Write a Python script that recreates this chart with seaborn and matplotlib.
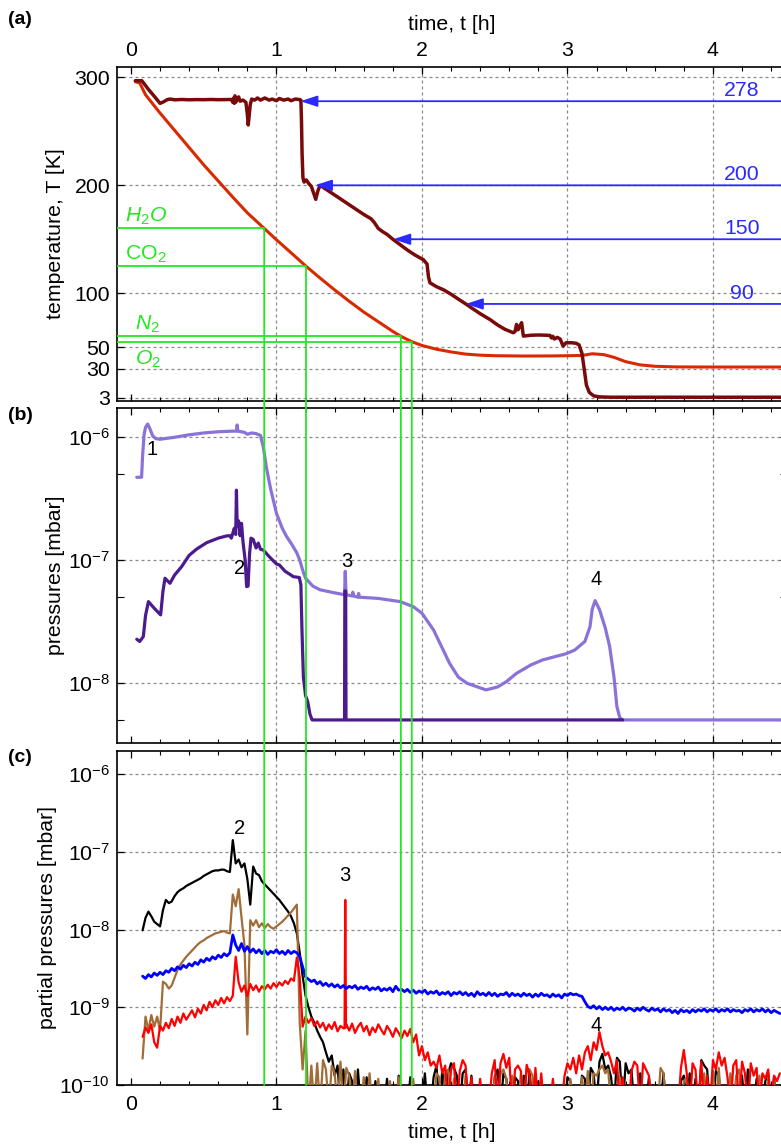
import numpy as np
import matplotlib
matplotlib.use("Agg")
import matplotlib.pyplot as plt
from matplotlib.patches import ConnectionPatch
from matplotlib.ticker import MultipleLocator, NullFormatter
import seaborn as sns

sns.set_style("white")
plt.rcParams["font.family"] = ["Liberation Sans", "DejaVu Sans"]
plt.rcParams["mathtext.fontset"] = "custom"
plt.rcParams["mathtext.rm"] = "Liberation Sans"
plt.rcParams["mathtext.it"] = "Liberation Sans:italic"
plt.rcParams["mathtext.bf"] = "Liberation Sans:bold"
for key in ["text.color", "axes.labelcolor", "xtick.color", "ytick.color", "axes.edgecolor"]:
    plt.rcParams[key] = "black"

# ---------------- (a) temperatures ----------------
coldhead_t = [0.03, 0.06, 0.10, 0.20, 0.30, 0.40, 0.50, 0.60, 0.70, 0.80, 0.916, 1.00,
              1.10, 1.203, 1.30, 1.40, 1.50, 1.60, 1.70, 1.80, 1.855, 1.93, 2.00, 2.10,
              2.20, 2.30, 2.40, 2.50, 2.70, 2.90, 3.10, 3.17, 3.25, 3.32, 3.40, 3.50,
              3.60, 3.75, 4.00, 4.60]
coldhead_T = [296, 295, 284, 267, 251, 235, 219, 204, 189, 174.5, 160, 149.5,
              137.5, 125, 114, 103, 92.5, 82.5, 73.5, 64.5, 60, 55, 51.5, 48,
              45.5, 43.5, 42.5, 42, 41.7, 41.8, 42.2, 43.8, 43, 40.5, 36.5, 33.5,
              32.2, 31.6, 31.5, 31.5]

sample_t = [0.03, 0.075, 0.12, 0.17, 0.20, 0.225, 0.25, 0.27, 0.30, 0.35, 0.40, 0.45,
            0.50, 0.55, 0.60, 0.65, 0.69, 0.70, 0.705, 0.71, 0.715, 0.72, 0.73, 0.74,
            0.75, 0.77, 0.79, 0.80, 0.806, 0.812, 0.82, 0.83, 0.85, 0.87, 0.89, 0.92,
            0.95, 0.97, 1.00, 1.02, 1.05, 1.08, 1.10, 1.13, 1.16, 1.168, 1.172, 1.176,
            1.182, 1.19, 1.205, 1.22, 1.24, 1.255, 1.27, 1.285, 1.30, 1.35, 1.40, 1.45,
            1.50, 1.55, 1.60, 1.65, 1.67, 1.70, 1.73, 1.76, 1.80, 1.83, 1.86, 1.90,
            1.95, 2.01, 2.035, 2.045, 2.055, 2.10, 2.15, 2.20, 2.25, 2.307, 2.35, 2.40,
            2.467, 2.52, 2.57, 2.628, 2.64, 2.65, 2.66, 2.675, 2.685, 2.697, 2.75, 2.80,
            2.85, 2.88, 2.89, 2.90, 2.91, 2.93, 2.95, 2.97, 2.99, 3.03, 3.06, 3.08,
            3.10, 3.115, 3.13, 3.15, 3.18, 3.22, 3.30, 4.60]
sample_T = [297, 297, 289, 281, 276, 277.5, 279.5, 280, 279.3, 279.6, 279.3, 279.5,
            279.4, 279.6, 279.4, 279.5, 279.6, 277, 281, 276, 283, 277, 280, 282,
            278, 279, 277, 266, 256, 264, 275, 280, 279, 281, 279, 281,
            279, 280, 278.5, 280.5, 279, 280, 278.5, 280, 279.5, 279, 260, 230,
            207, 203, 205, 202, 199, 193, 187, 195, 200, 195.5, 191, 186.5,
            182, 177.5, 173, 169, 166, 160, 157, 154.5, 150, 147, 144, 140,
            135.5, 131, 127, 115, 109.6, 106, 103, 99, 94.5, 89.5, 85.5, 81,
            75.6, 70.5, 66.5, 63.3, 64.5, 71, 66, 70, 72.6, 60.2, 61, 61.2,
            61, 60.8, 58.5, 60, 57.5, 59, 57.5, 51, 54, 54, 53.5, 52,
            44, 30, 15, 8, 4.8, 3.8, 3.5, 3.5]

setpoint_T = [278, 200, 150, 90]
setpoint_t = [1.165, 1.265, 1.803, 2.302]

freeze_labels = [r"$H_2O$", r"CO$_2$", r"$N_2$", r"$O_2$"]
freeze_T = [160, 125, 60, 55]
freeze_t = [0.916, 1.203, 1.855, 1.93]

# ---------------- (b) total pressures (log10 mbar) ----------------
p1_t = [0.04, 0.073, 0.08, 0.09, 0.10, 0.115, 0.13, 0.15, 0.17, 0.20, 0.30, 0.40,
        0.50, 0.60, 0.70, 0.725, 0.73, 0.735, 0.78, 0.80, 0.83, 0.86, 0.89, 0.91,
        0.93, 0.96, 1.00, 1.04, 1.07, 1.10, 1.14, 1.16, 1.18, 1.20, 1.25, 1.30,
        1.40, 1.468, 1.473, 1.478, 1.52, 1.525, 1.53, 1.56, 1.565, 1.57, 1.70, 1.85,
        1.94, 2.00, 2.08, 2.19, 2.25, 2.31, 2.44, 2.52, 2.58, 2.65, 2.75, 2.83,
        2.99, 3.05, 3.12, 3.155, 3.17, 3.19, 3.22, 3.26, 3.29, 3.32, 3.34, 3.36,
        3.38, 4.60]
p1_v = [-6.325, -6.325, -6.15, -5.98, -5.92, -5.892, -5.93, -5.99, -6.01, -6.016, -6.0, -5.98,
        -5.965, -5.955, -5.95, -5.95, -5.90, -5.95, -5.96, -5.975, -5.965, -5.97, -5.985, -6.08,
        -6.24, -6.42, -6.618, -6.74, -6.808, -6.86, -6.94, -6.998, -7.08, -7.146, -7.21, -7.24,
        -7.265, -7.28, -7.09, -7.28, -7.29, -7.26, -7.29, -7.30, -7.27, -7.30, -7.31, -7.336,
        -7.377, -7.43, -7.567, -7.838, -7.95, -8.0, -8.054, -8.03, -7.987, -7.919, -7.85, -7.81,
        -7.76, -7.73, -7.66, -7.54, -7.40, -7.328, -7.40, -7.55, -7.70, -7.95, -8.19, -8.28,
        -8.298, -8.298]

p2_t = [0.04, 0.06, 0.085, 0.10, 0.12, 0.16, 0.204, 0.22, 0.234, 0.268, 0.30, 0.348,
        0.40, 0.45, 0.52, 0.60, 0.658, 0.68, 0.69, 0.70, 0.71, 0.72, 0.725, 0.73,
        0.74, 0.75, 0.76, 0.77, 0.785, 0.795, 0.805, 0.815, 0.825, 0.84, 0.86, 0.875,
        0.89, 0.91, 0.95, 1.00, 1.02, 1.06, 1.10, 1.115, 1.157, 1.168, 1.175, 1.185,
        1.20, 1.215, 1.23, 1.245, 1.468, 1.470, 1.476, 1.478, 3.38]
p2_v = [-7.642, -7.66, -7.62, -7.45, -7.336, -7.39, -7.444, -7.25, -7.146, -7.187, -7.12, -7.052,
        -6.96, -6.91, -6.857, -6.82, -6.802, -6.80, -6.82, -6.78, -6.74, -6.79, -6.43, -6.72,
        -6.68, -6.80, -6.70, -6.85, -7.0, -7.214, -7.21, -6.95, -6.82, -6.83, -6.90, -6.86,
        -6.91, -6.917, -6.97, -7.03, -7.038, -7.09, -7.12, -7.133, -7.14, -7.20, -7.55, -7.95,
        -8.10, -8.15, -8.25, -8.298, -8.298, -7.25, -7.25, -8.298, -8.298]

# ---------------- (c) partial pressures (log10 mbar), sampled every 0.02 h from 0.08 h ----------------
T0, DT = 0.08, 0.02

blue_v = [
    -8.60, -8.63, -8.58, -8.61, -8.56, -8.59, -8.55, -8.58, -8.53, -8.55,
    -8.50, -8.53, -8.48, -8.51, -8.46, -8.49, -8.44, -8.47, -8.42, -8.45,
    -8.39, -8.42, -8.37, -8.40, -8.35, -8.38, -8.33, -8.36, -8.31, -8.34,
    -8.30, -8.07, -8.20, -8.27, -8.18, -8.28, -8.22, -8.29, -8.25, -8.30,
    -8.26, -8.31, -8.27, -8.32, -8.28, -8.30, -8.26, -8.31, -8.28, -8.32,
    -8.27, -8.31, -8.28, -8.30, -8.35, -8.48, -8.61, -8.64, -8.67, -8.65,
    -8.70, -8.67, -8.72, -8.69, -8.73, -8.70, -8.74, -8.71, -8.75, -8.72,
    -8.76, -8.73, -8.75, -8.72, -8.77, -8.74, -8.76, -8.73, -8.78, -8.75,
    -8.77, -8.74, -8.79, -8.76, -8.78, -8.75, -8.80, -8.73, -8.78, -8.77,
    -8.80, -8.77, -8.81, -8.78, -8.82, -8.79, -8.81, -8.78, -8.83, -8.80,
    -8.82, -8.79, -8.84, -8.81, -8.83, -8.80, -8.85, -8.81, -8.83, -8.80,
    -8.84, -8.81, -8.85, -8.82, -8.86, -8.80, -8.84, -8.82, -8.85, -8.81,
    -8.85, -8.82, -8.86, -8.83, -8.84, -8.81, -8.86, -8.82, -8.85, -8.83,
    -8.86, -8.82, -8.85, -8.83, -8.87, -8.83, -8.86, -8.82, -8.85, -8.84,
    -8.87, -8.83, -8.86, -8.84, -8.88, -8.83, -8.85, -8.82, -8.84, -8.83,
    -8.85, -8.86, -8.93, -8.99, -9.01, -8.98, -9.02, -8.99, -9.03, -9.00,
    -9.03, -9.00, -9.04, -9.01, -9.03, -9.00, -9.04, -9.01, -9.02, -9.05,
    -9.01, -9.04, -9.00, -9.03, -9.05, -9.01, -9.04, -9.02, -9.06, -9.02,
    -9.05, -9.03, -9.07, -9.04, -9.08, -9.03, -9.06, -9.04, -9.07, -9.03,
    -9.06, -9.03, -9.05, -9.02, -9.06, -9.03, -9.05, -9.02, -9.06, -9.03,
    -9.05, -9.02, -9.06, -9.03, -9.05, -9.04, -9.07, -9.03, -9.05, -9.02,
    -9.06, -9.03, -9.05, -9.02, -9.06, -9.03, -9.07, -9.04, -9.06, -9.08,
]

red_v = [
    -9.38, -9.26, -9.33, -9.22, -9.45, -9.52, -9.24, -9.30, -9.20, -9.27,
    -9.15, -9.24, -9.12, -9.20, -9.08, -9.16, -9.10, -9.04, -9.13, -9.02,
    -9.08, -8.97, -9.04, -8.93, -9.00, -8.91, -8.97, -8.88, -8.95, -8.87,
    -8.92, -8.85, -8.35, -8.68, -8.80, -8.72, -8.86, -8.70, -8.78, -8.72,
    -8.80, -8.73, -8.77, -8.71, -8.76, -8.69, -8.74, -8.68, -8.72, -8.66,
    -8.70, -8.63, -8.66, -8.36, -8.62, -9.25, -9.12, -9.20, -9.14, -9.24,
    -9.18, -9.26, -9.20, -9.30, -9.22, -9.28, -9.19, -9.31, -9.24, -9.27,
    -9.22, -9.30, -9.21, -9.33, -9.25, -9.20, -9.31, -9.24, -9.36, -9.26,
    -9.32, -9.22, -9.29, -9.35, -9.24, -9.30, -9.38, -9.27, -9.33, -9.40,
    -9.30, -9.37, -9.28, -9.45, -9.35, -9.62, -9.50, -9.68, -9.58, -9.75,
    -9.70, -9.78, -9.62, -9.85, -9.75, -10.3, -9.80, -9.72, -10.3, -9.82,
    -9.68, -9.75, -10.3, -9.90, -10.3, -10.3, -9.92, -10.3, -10.3, -10.3,
    -9.85, -9.68, -10.3, -9.72, -9.60, -9.78, -9.65, -10.3, -9.80, -9.75,
    -9.82, -10.3, -9.74, -9.88, -10.3, -9.78, -10.3, -9.85, -10.3, -10.3,
    -10.3, -9.92, -10.3, -10.3, -10.3, -9.88, -9.72, -9.80, -9.65, -9.85,
    -9.62, -9.80, -9.58, -9.50, -9.68, -9.45, -9.55, -9.32, -9.50, -9.62,
    -9.58, -9.70, -9.85, -9.68, -10.3, -9.90, -10.3, -10.3, -9.82, -9.70,
    -9.75, -10.3, -9.72, -9.80, -9.88, -10.3, -10.3, -10.3, -10.3, -10.3,
    -10.3, -10.3, -10.3, -10.3, -10.3, -9.78, -9.55, -9.85, -10.3, -9.72,
    -9.80, -10.3, -9.70, -10.3, -9.88, -10.3, -9.68, -9.80, -9.58, -9.75,
    -9.65, -9.90, -10.3, -9.75, -9.68, -10.3, -9.70, -9.85, -10.3, -9.72,
    -9.88, -9.78, -10.3, -9.85, -9.92, -9.80, -10.3, -9.88, -9.95, -9.85,
]
red_spike_t = [1.468, 1.473, 1.478]
red_spike_v = [-9.27, -7.62, -9.26]

black_v = [
    -8.01, -7.85, -7.77, -7.83, -7.90, -7.93, -7.96, -7.75, -7.62, -7.66,
    -7.64, -7.57, -7.52, -7.49, -7.47, -7.44, -7.42, -7.40, -7.38, -7.36,
    -7.34, -7.31, -7.29, -7.27, -7.25, -7.24, -7.24, -7.23, -7.23, -7.25,
    -7.26, -6.85, -7.15, -7.10, -7.20, -7.15, -7.35, -7.68, -7.19, -7.28,
    -7.30, -7.38, -7.42, -7.46, -7.50, -7.54, -7.58, -7.62, -7.67, -7.72,
    -7.77, -7.83, -7.92, -8.05, -8.30, -8.60, -8.85, -9.00, -9.12, -9.20,
    -9.30, -9.38, -9.45, -9.58, -9.70, -9.62, -9.88, -9.75, -10.3, -9.80,
    -10.3, -9.85, -9.95, -10.3, -9.80, -10.3, -10.3, -9.90, -10.3, -10.3,
    -9.95, -10.3, -10.3, -10.3, -9.92, -10.3, -10.3, -10.3, -9.88, -10.3,
    -10.3, -10.3, -9.90, -10.3, -10.3, -10.3, -10.3, -9.85, -10.3, -10.3,
    -9.90, -9.75, -10.3, -9.80, -10.3, -9.85, -9.72, -9.78, -9.88, -10.3,
    -9.85, -9.80, -10.3, -9.88, -10.3, -10.3, -10.3, -10.3, -10.3, -10.3,
    -10.3, -9.90, -9.80, -10.3, -9.85, -9.92, -10.3, -10.3, -9.90, -9.95,
    -10.3, -9.88, -10.3, -9.82, -10.3, -10.3, -9.95, -10.3, -10.3, -10.3,
    -10.3, -10.3, -10.3, -10.3, -10.3, -10.3, -9.90, -9.95, -10.3, -10.3,
    -10.3, -9.88, -9.92, -10.3, -9.78, -9.85, -10.3, -9.70, -9.60, -9.80,
    -9.75, -9.90, -10.3, -9.65, -9.70, -10.3, -9.72, -9.85, -9.80, -10.3,
    -10.3, -9.85, -10.3, -10.3, -9.90, -10.3, -10.3, -10.3, -10.3, -9.85,
    -10.3, -10.3, -10.3, -10.3, -10.3, -9.95, -9.88, -10.3, -9.85, -10.3,
    -9.92, -10.3, -9.68, -9.75, -9.80, -10.3, -10.3, -9.82, -9.88, -10.3,
    -10.3, -10.3, -9.90, -10.3, -10.3, -10.3, -9.88, -10.3, -9.80, -10.3,
    -10.3, -9.92, -10.3, -10.3, -9.95, -9.85, -10.3, -9.90, -10.3, -10.3,
]

brown_v = [
    -9.66, -9.12, -9.30, -9.10, -9.25, -9.12, -9.30, -8.67, -8.70, -8.76,
    -8.72, -8.62, -8.52, -8.45, -8.40, -8.35, -8.31, -8.27, -8.23, -8.19,
    -8.16, -8.14, -8.11, -8.09, -8.07, -8.05, -8.04, -8.03, -8.02, -8.04,
    -8.05, -7.55, -7.70, -7.48, -7.85, -8.20, -9.35, -7.88, -7.95, -7.88,
    -7.97, -7.92, -7.98, -7.93, -7.97, -7.99, -7.96, -7.93, -7.90, -7.86,
    -7.82, -7.78, -7.73, -7.68, -9.20, -9.80, -9.30, -10.3, -9.75, -10.3,
    -9.72, -10.3, -9.68, -9.80, -10.3, -9.75, -9.85, -10.3, -9.70, -10.3,
    -9.78, -9.88, -10.3, -9.82, -10.3, -10.3, -9.90, -10.3, -9.85, -10.3,
    -10.3, -9.92, -10.3, -10.3, -10.3, -9.95, -10.3, -10.3, -9.90, -10.3,
    -10.3, -10.3, -10.3, -9.92, -10.3, -10.3, -10.3, -10.3, -10.3, -10.3,
    -10.3, -9.85, -9.90, -10.3, -9.85, -9.80, -10.3, -9.92, -10.3, -10.3,
    -10.3, -9.88, -10.3, -10.3, -10.3, -10.3, -10.3, -10.3, -10.3, -10.3,
    -10.3, -9.90, -10.3, -9.85, -9.80, -9.92, -10.3, -9.88, -10.3, -10.3,
    -9.85, -10.3, -9.78, -9.80, -9.88, -10.3, -10.3, -10.3, -10.3, -10.3,
    -10.3, -10.3, -10.3, -10.3, -10.3, -10.3, -10.3, -9.92, -10.3, -10.3,
    -10.3, -9.90, -10.3, -9.82, -10.3, -9.85, -9.88, -9.80, -9.75, -9.85,
    -9.80, -10.3, -10.3, -10.3, -9.90, -10.3, -10.3, -10.3, -10.3, -10.3,
    -10.3, -10.3, -10.3, -10.3, -10.3, -10.3, -10.3, -10.3, -9.78, -9.85,
    -10.3, -10.3, -10.3, -10.3, -10.3, -10.3, -9.95, -9.90, -10.3, -10.3,
    -10.3, -10.3, -10.3, -9.85, -10.3, -10.3, -9.82, -10.3, -9.78, -10.3,
    -10.3, -10.3, -9.85, -10.3, -9.88, -9.80, -10.3, -10.3, -10.3, -10.3,
    -10.3, -10.3, -9.88, -10.3, -10.3, -9.90, -10.3, -9.92, -10.3, -10.3,
]

# peak labels: (text, t, log10 p)
peaks_b = [("1", 0.142, -6.10), ("2", 0.749, -7.065), ("3", 1.482, -7.011), ("4", 3.20, -7.16)]
peaks_c = [("2", 0.745, -6.70), ("3", 1.471, -7.30), ("4", 3.196, -9.23)]

# ---------------- style ----------------
C_SAMPLE = "#780a0a"
C_COLD = "#d82a00"
C_P1 = "#8a72d8"
C_P2 = "#4b1a8c"
C_BROWN = "#a26c38"
GREEN = "#22e822"
ARROW = "#2a2aff"
GRID = "#8a8a8a"
FS = 15.3
XLIM = (-0.098, 4.507)


def sampled(values, extra_t=(), extra_v=()):
    t = T0 + DT * np.arange(len(values))
    t = np.concatenate([t, np.asarray(extra_t, float)])
    v = np.concatenate([np.asarray(values, float), np.asarray(extra_v, float)])
    order = np.argsort(t, kind="stable")
    return t[order], v[order]


def line(ax, x, y, color, lw, z=3):
    sns.lineplot(x=np.asarray(x, float), y=np.asarray(y, float), ax=ax, color=color,
                 linewidth=lw, estimator=None, sort=False, legend=False, zorder=z)


def frame(ax):
    ax.set_xlim(*XLIM)
    for s in ax.spines.values():
        s.set_visible(True)
        s.set_color("black")
        s.set_linewidth(1.2)
    ax.xaxis.set_major_locator(MultipleLocator(1))
    ax.xaxis.set_minor_locator(MultipleLocator(0.2))
    ax.tick_params(which="both", direction="in", top=True, right=True, left=True,
                   bottom=True, color="black", labelcolor="black", labelsize=FS)
    ax.tick_params(which="major", length=5, width=0.9)
    ax.tick_params(which="minor", length=3, width=0.8)
    ax.tick_params(axis="y", pad=4.8)
    for xv in [1, 2, 3, 4]:
        ax.axvline(xv, color=GRID, lw=0.9, ls=(0, (2.4, 2.4)), zorder=0)
    ax.set_facecolor("white")


W_PX, H_PX = 781, 1145
fig = plt.figure(figsize=(W_PX / 100, H_PX / 100), dpi=100)
left = 116.7 / W_PX
width = (786.7 - 116.7) / W_PX


def axes_px(top, bottom):
    return fig.add_axes([left, 1 - bottom / H_PX, width, (bottom - top) / H_PX])


ax_a = axes_px(66.7, 401.0)
ax_b = axes_px(408.0, 743.3)
ax_c = axes_px(750.7, 1085.0)

# ---------------- panel (a) ----------------
frame(ax_a)
ax_a.set_ylim(0, 310)
a_ticks = [3, 30, 50, 100, 200, 300]
ax_a.set_yticks(a_ticks)
ax_a.set_yticklabels([str(v) for v in a_ticks])
for yv in a_ticks:
    ax_a.axhline(yv, color=GRID, lw=0.9, ls=(0, (2.4, 2.4)), zorder=0)
ax_a.tick_params(axis="x", labeltop=True, labelbottom=False, pad=4.8)
ax_a.xaxis.set_label_position("top")
ax_a.set_xlabel("time, t [h]", fontsize=FS)
ax_a.xaxis.set_label_coords(0.5, 1.11)
ax_a.set_ylabel("temperature, T [K]", fontsize=FS)
ax_a.yaxis.set_label_coords(-0.077, 0.5)

line(ax_a, coldhead_t, coldhead_T, C_COLD, 2.2, z=3)
line(ax_a, sample_t, sample_T, C_SAMPLE, 2.5, z=4)

for tt, TT in zip(setpoint_t, setpoint_T):
    ax_a.annotate("", xy=(tt, TT), xytext=(4.65, TT), annotation_clip=False,
                  arrowprops=dict(arrowstyle="-|>,head_length=0.85,head_width=0.28",
                                  color=ARROW, lw=1.3, mutation_scale=12,
                                  shrinkA=0, shrinkB=0), zorder=5)
    ax_a.text(4.2, TT + 10, str(TT), color=ARROW, fontsize=FS, ha="center", va="center")

label_pos = [(-0.041, 171), (-0.041, 135.8), (0.027, 71), (0.027, 38.6)]
for lab, tt, TT, (lx, ly) in zip(freeze_labels, freeze_t, freeze_T, label_pos):
    ax_a.hlines(TT, XLIM[0], tt, color=GREEN, lw=1.3, zorder=6)
    ax_a.text(lx, ly, lab, color=GREEN, fontsize=FS, ha="left", va="center")

# ---------------- panel (b) ----------------
frame(ax_b)
ax_b.set_yscale("log")
ax_b.set_ylim(10 ** -8.488, 10 ** -5.762)
ax_b.set_yticks([1e-8, 1e-7, 1e-6])
ax_b.set_yticks([5e-9, 5e-8, 5e-7], minor=True)
ax_b.yaxis.set_minor_formatter(NullFormatter())
ax_b.tick_params(axis="y", which="minor", length=5)
for yv in [1e-8, 1e-7, 1e-6]:
    ax_b.axhline(yv, color=GRID, lw=0.9, ls=(0, (2.4, 2.4)), zorder=0)
ax_b.tick_params(axis="x", labelbottom=False, labeltop=False)
ax_b.set_ylabel("pressures [mbar]", fontsize=FS)
ax_b.yaxis.set_label_coords(-0.077, 0.5)

line(ax_b, p1_t, 10 ** np.asarray(p1_v), C_P1, 2.3, z=3)
line(ax_b, p2_t, 10 ** np.asarray(p2_v), C_P2, 2.3, z=4)
for txt, tt, lv in peaks_b:
    ax_b.text(tt, 10 ** lv, txt, fontsize=14.5, ha="center", va="center", zorder=6)

# ---------------- panel (c) ----------------
frame(ax_c)
ax_c.set_yscale("log")
ax_c.set_ylim(1e-10, 10 ** -5.7)
ax_c.set_yticks([1e-10, 1e-9, 1e-8, 1e-7, 1e-6])
ax_c.yaxis.set_minor_locator(plt.NullLocator())
for yv in [1e-9, 1e-8, 1e-7, 1e-6]:
    ax_c.axhline(yv, color=GRID, lw=0.9, ls=(0, (2.4, 2.4)), zorder=0)
ax_c.tick_params(axis="x", labelbottom=True, labeltop=False, pad=7)
ax_c.set_xlabel("time, t [h]", fontsize=FS)
ax_c.xaxis.set_label_coords(0.5, -0.114)
ax_c.set_ylabel("partial pressures [mbar]", fontsize=FS)
ax_c.yaxis.set_label_coords(-0.089, 0.5)

for vals, color, lw, z, ex_t, ex_v in [
    (black_v, "black", 1.6, 3, (), ()),
    (brown_v, C_BROWN, 1.6, 4, (), ()),
    (red_v, "#ff0000", 1.6, 5, red_spike_t, red_spike_v),
    (blue_v, "#0000ff", 2.0, 6, (), ()),
]:
    t, v = sampled(vals, ex_t, ex_v)
    line(ax_c, t, 10 ** v, color, lw, z=z)
for txt, tt, lv in peaks_c:
    ax_c.text(tt, 10 ** lv, txt, fontsize=14.5, ha="center", va="center", zorder=7)

# freezing markers run from panel (a) down through (b) and (c)
for tt, TT in zip(freeze_t, freeze_T):
    con = ConnectionPatch(xyA=(tt, TT), coordsA=ax_a.transData,
                          xyB=(tt, 1e-10), coordsB=ax_c.transData,
                          color=GREEN, lw=1.3, zorder=10)
    fig.add_artist(con)

for lab, ypx in [("(a)", 19), ("(b)", 416), ("(c)", 758)]:
    fig.text(8 / W_PX, 1 - ypx / H_PX, lab, fontsize=14, fontweight="bold",
             ha="left", va="center")

fig.savefig("out.png", dpi=100, facecolor="white")
